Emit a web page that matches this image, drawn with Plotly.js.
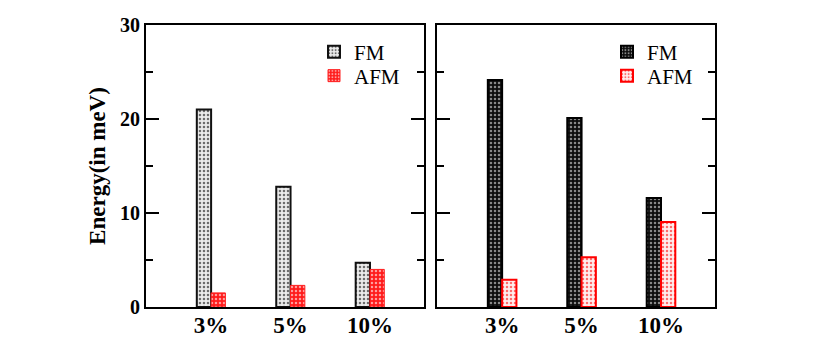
<!DOCTYPE html>
<html>
<head>
<meta charset="utf-8">
<script src="https://cdn.plot.ly/plotly-3.0.1.min.js"></script>
<style>
  html, body { margin: 0; padding: 0; background: #fff; }
  #grafica { width: 827px; height: 342px; }
</style>
</head>
<body>
<div id="grafica"></div>
<script>
const categories = ["3%", "5%", "10%"];
const leftFM = [21.0, 12.8, 4.7];
const leftAFM = [1.5, 2.3, 4.0];
const rightFM = [24.15, 20.1, 11.6];
const rightAFM = [2.9, 5.3, 9.05];
const yTicks = [0, 10, 20, 30];

const serif = "'Liberation Serif', 'Times New Roman', Times, serif";

function barra(y, name, xa, ya, legend, bg, fg, lineColor, lineWidth) {
    return {
        type: 'bar',
        x: categories,
        y: y,
        name: name,
        xaxis: xa,
        yaxis: ya,
        legend: legend,
        marker: {
            color: bg,
            line: { color: lineColor, width: lineWidth },
            pattern: { shape: '.', bgcolor: bg, fgcolor: fg, size: 4, solidity: 0.3, fillmode: 'replace' }
        },
        hoverinfo: 'skip'
    };
}

const traces = [
    barra(leftFM, 'FM', 'x', 'y', 'legend', '#ececec', '#6a6a6a', '#111111', 2),
    barra(leftAFM, 'AFM', 'x', 'y', 'legend3', '#ff1a1a', '#ffa0a0', '#ff2020', 1),
    barra(rightFM, 'FM', 'x2', 'y2', 'legend2', '#0d0d0d', '#8a8a8a', '#000000', 2),
    barra(rightAFM, 'AFM', 'x2', 'y2', 'legend4', '#ffeeee', '#ff6a6a', '#ff0000', 2)
];

const ejeX = (dom, anchor) => ({
    domain: dom,
    anchor: anchor,
    type: 'category',
    range: [-0.82, 2.68],
    showline: true, linecolor: '#000', linewidth: 2, mirror: true,
    ticks: '', showgrid: false, zeroline: false,
    ticklabelstandoff: -4,
    tickfont: { family: serif, size: 23, color: '#000', weight: 'bold' },
    automargin: false
});

const ejeY = (anchor, labels) => ({
    domain: [0.1023, 0.9269],
    anchor: anchor,
    range: [0, 30],
    tickvals: yTicks,
    showticklabels: labels,
    ticks: 'inside', ticklen: 13, tickwidth: 2, tickcolor: '#000',
    minor: { dtick: 5, ticks: 'inside', ticklen: 7, tickwidth: 2, tickcolor: '#000' },
    showline: true, linecolor: '#000', linewidth: 2, mirror: 'ticks',
    showgrid: false, zeroline: false,
    tickfont: { family: serif, size: 20, color: '#000', weight: 'bold' },
    automargin: false
});

const leyenda = (x, y) => ({
    x: x, y: y, xanchor: 'left', yanchor: 'middle',
    bgcolor: 'rgba(0,0,0,0)', tracegroupgap: 0,
    font: { family: serif, size: 21, color: '#000' }
});

const layout = {
    width: 827,
    height: 342,
    margin: { l: 0, r: 0, t: 0, b: 0 },
    paper_bgcolor: '#fff',
    plot_bgcolor: '#fff',
    barmode: 'group',
    bargap: 0.64,
    bargroupgap: 0,
    xaxis: ejeX([0.1765, 0.5127], 'y'),
    yaxis: Object.assign(ejeY('x', true), {
        title: { text: 'Energy(in meV)', font: { family: serif, size: 23, color: '#000', weight: 'bold' }, standoff: 8 }
    }),
    xaxis2: ejeX([0.5284, 0.8646], 'y2'),
    yaxis2: ejeY('x2', false),
    legend: leyenda(314 / 827, 1 - 52 / 342),
    legend3: leyenda(314 / 827, 1 - 76 / 342),
    legend2: leyenda(607 / 827, 1 - 52 / 342),
    legend4: leyenda(607 / 827, 1 - 76 / 342),
    showlegend: true
};

Plotly.newPlot("grafica", traces, layout, { displayModeBar: false, staticPlot: true });
</script>
</body>
</html>
